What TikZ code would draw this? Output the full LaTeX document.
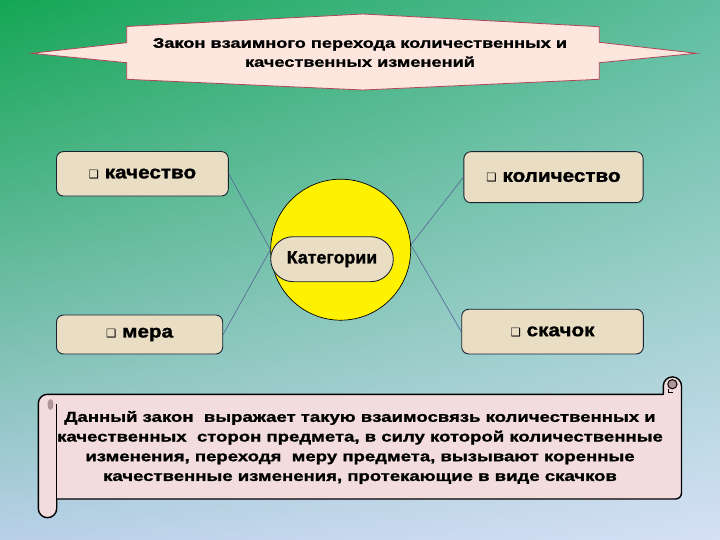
\documentclass[tikz,border=0pt]{standalone}
\usepackage{fontspec}
\usetikzlibrary{shadings,shapes.geometric}
\setmainfont{Liberation Sans}
\newfontfamily\titlef[FakeStretch=1.3,FakeBold=1.2]{Liberation Sans}
\newfontfamily\boxf[FakeStretch=1.15,FakeBold=1.5]{Liberation Sans}
\newfontfamily\catf[FakeBold=1.2]{Liberation Sans}
\newfontfamily\scrollf[FakeStretch=1.28,FakeBold=1.2]{Liberation Sans}
\newfontfamily\dejavu{DejaVu Sans}
\newcommand\qbul{{\dejavu\mdseries\fontsize{11.5}{11.5}\selectfont ❑}}
\definecolor{bgA}{RGB}{20,166,84}
\definecolor{bgB}{RGB}{95,190,160}
\definecolor{bgC}{RGB}{185,208,232}
\definecolor{bgD}{RGB}{214,224,246}
\definecolor{titlefill}{RGB}{252,230,222}
\definecolor{titleline}{RGB}{176,70,90}
\definecolor{beige}{RGB}{233,221,196}
\definecolor{boxline}{RGB}{25,35,50}
\definecolor{linkc}{RGB}{85,100,150}
\definecolor{scrollc}{RGB}{242,220,222}
\definecolor{curlc}{RGB}{175,150,152}
\begin{document}
\begin{tikzpicture}[x=1pt,y=-1pt,
  catbox/.style={draw=boxline, line width=0.9pt, fill=beige, rounded corners=7pt, inner sep=0pt,
    font=\boxf\bfseries\fontsize{18}{20}\selectfont},
  pillbox/.style={draw=boxline, line width=0.9pt, fill=beige, rounded corners=22.4pt, inner sep=0pt,
    minimum width=122.6pt, minimum height=45pt, font=\catf\bfseries\fontsize{17.8}{20}\selectfont},
  link/.style={draw=linkc, line width=0.6pt}]
\useasboundingbox (0,0) rectangle (720,540);
\shade[upper left=bgA, upper right=bgB, lower left=bgC, lower right=bgD] (0,0) rectangle (720,540);

% title banner
\draw[draw=titleline, line width=0.8pt, fill=titlefill, line join=miter]
  (31.7,53.3) -- (126.7,42.7) -- (126.7,26.5) -- (363,14) -- (599.3,26.7) -- (599.3,42.3)
  -- (696.7,53.3) -- (599.3,62.7) -- (599.3,79.3) -- (363,90) -- (126.7,79.3) -- (126.7,62.7) -- cycle;
\node[font=\titlef\bfseries\fontsize{14}{19}\selectfont, align=center, inner sep=0pt] (title) at (360,52.5)
  {Закон взаимного перехода количественных и\\качественных изменений};

% central ellipse and pill
\node[draw=black, line width=0.7pt, fill=yellow, ellipse, minimum width=140pt, minimum height=141pt, inner sep=0pt] (ell) at (340.7,249.7) {};
\node[pillbox] (cat) at (332,259.2) {Категории};

% category boxes
\node[catbox, minimum width=171.8pt, minimum height=44.5pt] (kach) at (142.4,173.8) {\qbul\ качество};
\node[catbox, minimum width=179.3pt, minimum height=51pt] (kol) at (553.5,177.2) {\qbul\ количество};
\node[catbox, minimum width=166.2pt, minimum height=39pt] (mera) at (139.6,334.5) {\qbul\ мера};
\node[catbox, minimum width=181.6pt, minimum height=44.7pt] (skach) at (552.5,331.6) {\qbul\ скачок};

% connectors
\draw[link] (kach.east) -- (ell.west);
\draw[link] (mera.east) -- (ell.west);
\draw[link] (kol.west) -- (ell.4);
\draw[link] (skach.west) -- (ell.4);

% scroll
\draw[draw=black, line width=1.4pt, fill=scrollc, line join=round]
  (47.5,394.3) -- (663.3,394.3) -- (663.3,386) arc[start angle=180, end angle=360, radius=9.1]
  -- (681.5,493) arc[start angle=0, end angle=90, radius=6]
  -- (56.7,499) -- (56.7,508.5) arc[start angle=0, end angle=180, radius=9.2]
  -- (38.3,403.5) arc[start angle=180, end angle=270, radius=9.2] -- cycle;
\draw[line width=1.4pt] (56.7,403.5) -- (56.7,508.5);
\fill[curlc] (50.5,404.5) ellipse[x radius=3, y radius=5.5];
\draw[line width=1pt, fill=curlc] (672.4,384.2) circle[radius=4.6];
\draw[line width=1pt] (668,388.5) -- (668,392) -- (673,392);

\node[font=\scrollf\bfseries\fontsize{14.5}{19.7}\selectfont, align=center, inner sep=0pt] (text) at (360,447.5)
  {Данный закон\ \ выражает такую взаимосвязь количественных и\\
   качественных\ \ сторон предмета, в силу которой количественные\\
   изменения, переходя\ \ меру предмета, вызывают коренные\\
   качественные изменения, протекающие в виде скачков};
\end{tikzpicture}
\end{document}
